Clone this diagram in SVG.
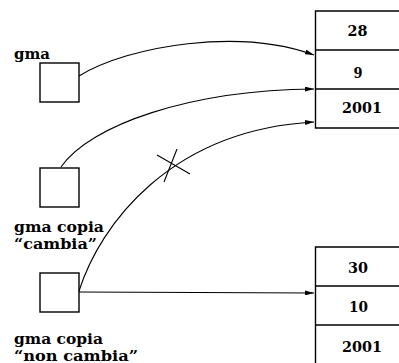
<svg xmlns="http://www.w3.org/2000/svg" width="399" height="363" viewBox="0 0 399 363">
  <style>
    .box { fill: none; stroke: #000; stroke-width: 1.4; }
    .wire { fill: none; stroke: #000; stroke-width: 1.1; }
    .lbl { font-family: "DejaVu Serif", "Liberation Serif", serif; font-weight: bold; font-size: 15px; fill: #000; }
    .num { font-family: "DejaVu Serif", "Liberation Serif", serif; font-weight: bold; font-size: 15px; fill: #000; text-anchor: middle; }
  </style>
  <defs>
    <marker id="head" viewBox="0 0 9 5" refX="9" refY="2.5" markerWidth="9" markerHeight="5" markerUnits="userSpaceOnUse" orient="auto">
      <path d="M0,0 L9,2.5 L0,5 Z" fill="#000"/>
    </marker>
  </defs>
  <rect width="399" height="363" fill="#fff"/>

  <!-- pointer variables -->
  <g id="gma">
    <text class="lbl" x="14" y="59" textLength="36" lengthAdjust="spacingAndGlyphs">gma</text>
    <rect class="box" x="40" y="63" width="39" height="39"/>
  </g>
  <g id="gma-copia-cambia">
    <rect class="box" x="40" y="168" width="39" height="39"/>
    <text class="lbl" x="14" y="232" textLength="90" lengthAdjust="spacingAndGlyphs">gma copia</text>
    <text class="lbl" x="14" y="248.5" textLength="83" lengthAdjust="spacingAndGlyphs">“cambia”</text>
  </g>
  <g id="gma-copia-non-cambia">
    <rect class="box" x="40" y="273" width="39" height="39"/>
    <text class="lbl" x="14" y="344" textLength="89" lengthAdjust="spacingAndGlyphs">gma copia</text>
    <text class="lbl" x="14" y="361" textLength="124" lengthAdjust="spacingAndGlyphs">“non cambia”</text>
  </g>

  <!-- date records -->
  <g id="data-1">
    <path class="box" d="M401,11 H315.5 V128 H401 M315.5,50 H401 M315.5,89 H401"/>
    <text class="num" x="357.5" y="36" textLength="20" lengthAdjust="spacingAndGlyphs">28</text>
    <text class="num" x="358" y="78" textLength="9" lengthAdjust="spacingAndGlyphs">9</text>
    <text class="num" x="362" y="113" textLength="40" lengthAdjust="spacingAndGlyphs">2001</text>
  </g>
  <g id="data-2">
    <path class="box" d="M401,247 H315.5 V364 M315.5,286 H401 M315.5,325 H401"/>
    <text class="num" x="358" y="273" textLength="20" lengthAdjust="spacingAndGlyphs">30</text>
    <text class="num" x="358.5" y="312" textLength="19" lengthAdjust="spacingAndGlyphs">10</text>
    <text class="num" x="362" y="352" textLength="40" lengthAdjust="spacingAndGlyphs">2001</text>
  </g>

  <!-- connectors -->
  <g id="connectors">
    <path class="wire" d="M79,76 C130,45 240,28 314,55" marker-end="url(#head)"/>
    <path class="wire" d="M61,167 C90,125 190,90 314,89" marker-end="url(#head)"/>
    <path class="wire" d="M79,291 C100,225 170,130 314,122" marker-end="url(#head)"/>
    <path class="wire" d="M79,292 L314,293" marker-end="url(#head)"/>
    <!-- crossed-out mark on the rebound pointer -->
    <path class="wire" d="M157,155 L190,174 M177,149 L164,182"/>
  </g>
</svg>
